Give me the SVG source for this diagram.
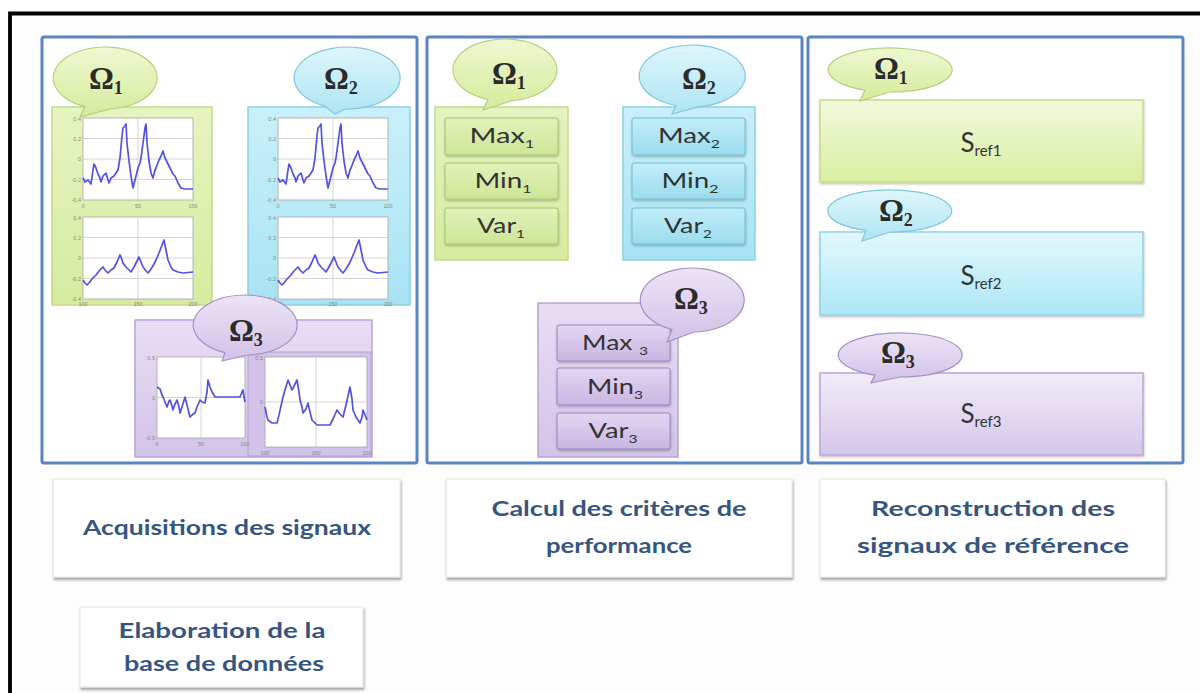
<svg xmlns="http://www.w3.org/2000/svg" xmlns:xlink="http://www.w3.org/1999/xlink" width="1200" height="693" viewBox="0 0 1200 693">
<defs>
<style>
.panel{fill:#ffffff;stroke:#5b84c4;stroke-width:3}
.om{font-family:"Liberation Serif","DejaVu Serif",serif;font-weight:bold;font-size:31px;fill:#2b2b2b}
.oms{font-size:18px}
.lbl{font-family:Lato,"Open Sans","Liberation Sans",sans-serif;font-size:21px;fill:#333333;text-anchor:middle}
.lsub{font-size:12px}
.sref{font-family:Lato,"Open Sans","Liberation Sans",sans-serif;font-size:26px;fill:#333333;text-anchor:middle}
.ssub{font-size:15px}
.cap{font-family:Lato,"Open Sans","Liberation Sans",sans-serif;font-weight:bold;font-size:21px;fill:#36567f;text-anchor:middle}
.plot{fill:#ffffff;stroke:#a6a6a6;stroke-width:0.8}
.grid{fill:none;stroke:#c9c9c9;stroke-width:0.8}
.sig{fill:none;stroke:#5252e4;stroke-width:1.7;stroke-linejoin:round}
.tick{font-family:"Liberation Sans",sans-serif;font-size:5.5px;fill:#8a8a8a}
.gbox{fill:url(#gG);stroke:#c3da8a;stroke-width:1.5}
.cbox{fill:url(#gC);stroke:#8ccfe3;stroke-width:1.5}
.pbox{fill:url(#gP);stroke:#baa3d6;stroke-width:1.5}
.gbub{fill:url(#bG);stroke:#b7d07a;stroke-width:1.2}
.cbub{fill:url(#bC);stroke:#83c7dd;stroke-width:1.2}
.pbub{fill:url(#bP);stroke:#a78fc6;stroke-width:1.2}
.gin{fill:url(#iG);stroke:#a9c46c;stroke-width:1}
.cin{fill:url(#iC);stroke:#6fbdd5;stroke-width:1}
.pin{fill:url(#iP);stroke:#9c82be;stroke-width:1}
.card{fill:#ffffff;stroke:#e4e4e4;stroke-width:1}
</style>
<linearGradient id="gG" x1="0" y1="0" x2="0" y2="1"><stop offset="0" stop-color="#e6f4c0"/><stop offset="1" stop-color="#d6eb9f"/></linearGradient>
<linearGradient id="gC" x1="0" y1="0" x2="0" y2="1"><stop offset="0" stop-color="#c9f0fa"/><stop offset="1" stop-color="#a8e3f3"/></linearGradient>
<linearGradient id="gP" x1="0" y1="0" x2="0" y2="1"><stop offset="0" stop-color="#e8def4"/><stop offset="1" stop-color="#d3c3e8"/></linearGradient>
<linearGradient id="rG" x1="0" y1="0" x2="0" y2="1"><stop offset="0" stop-color="#f1f9db"/><stop offset="1" stop-color="#d9eea1"/></linearGradient>
<linearGradient id="rC" x1="0" y1="0" x2="0" y2="1"><stop offset="0" stop-color="#e3f8fd"/><stop offset="1" stop-color="#ace7f5"/></linearGradient>
<linearGradient id="rP" x1="0" y1="0" x2="0" y2="1"><stop offset="0" stop-color="#f1ecf8"/><stop offset="1" stop-color="#d6c6ea"/></linearGradient>
<linearGradient id="bG" x1="0" y1="0" x2="0" y2="1"><stop offset="0" stop-color="#eef8d2"/><stop offset="1" stop-color="#d5eb9b"/></linearGradient>
<linearGradient id="bC" x1="0" y1="0" x2="0" y2="1"><stop offset="0" stop-color="#def6fc"/><stop offset="1" stop-color="#aee4f3"/></linearGradient>
<linearGradient id="bP" x1="0" y1="0" x2="0" y2="1"><stop offset="0" stop-color="#ece4f6"/><stop offset="1" stop-color="#d2c1e8"/></linearGradient>
<linearGradient id="iG" x1="0" y1="0" x2="0" y2="1"><stop offset="0" stop-color="#e2f2b8"/><stop offset="1" stop-color="#cde597"/></linearGradient>
<linearGradient id="iC" x1="0" y1="0" x2="0" y2="1"><stop offset="0" stop-color="#c2edf8"/><stop offset="1" stop-color="#9bdcee"/></linearGradient>
<linearGradient id="iP" x1="0" y1="0" x2="0" y2="1"><stop offset="0" stop-color="#e2d7f1"/><stop offset="1" stop-color="#c9b6e2"/></linearGradient>
<filter id="sh" x="-10%" y="-10%" width="125%" height="135%"><feDropShadow dx="1" dy="2.5" stdDeviation="1.3" flood-color="#000000" flood-opacity="0.35"/></filter>
<filter id="sh2" x="-10%" y="-10%" width="125%" height="140%"><feDropShadow dx="0.5" dy="1.5" stdDeviation="0.8" flood-color="#000000" flood-opacity="0.25"/></filter>
<polyline id="sigA" class="sig" points="0,60 2,64 5,62 8,66 10,52 11,46 13,50 15,56 17,60 18,64 20,58 23,55 25,62 26,65 28,60 31,58 33,55 35,52 37,40 39,18 40,10 42,8 43,6 44,25 46,43 48,58 50,70 52,62 55,50 57,45 58,40 60,25 62,10 63,6 64,25 66,43 68,55 70,60 72,52 73,50 76,42 78,38 80,33 82,40 85,46 87,50 90,56 92,58 95,65 98,70 102,71 110,71"/>
<polyline id="sigB" class="sig" points="0,63 2,66 4,68 6,66 9,62 13,58 16,54 20,50 22,53 25,56 28,53 31,51 34,45 37,38 38,40 40,46 43,50 46,53 48,55 51,50 54,44 56,40 58,45 60,50 63,54 65,56 68,52 71,47 73,43 76,36 79,28 81,23 83,33 85,43 88,50 90,53 95,55 100,56 110,55"/>
</defs>

<rect x="0" y="0" width="1200" height="693" fill="#ffffff"/>
<rect x="12" y="15" width="1188" height="678" fill="#fdfdfd"/>
<path d="M10 693 V13.5 H1200" fill="none" stroke="#000000" stroke-width="3.8"/>

<g id="connectors"></g>

<!-- Panel 1 -->
<g id="panel-acquisition">
<rect class="panel" x="42" y="37" width="375" height="426" rx="2"/>
<g id="p1-omega1">
<rect class="gbox" x="52" y="107" width="160" height="198"/>
<g transform="translate(83,118)">
<rect class="plot" width="110" height="82"/>
<path class="grid" d="M0 20.5H110M0 41H110M0 61.5H110M55 0V82"/>
<use xlink:href="#sigA"/>
<text class="tick" x="-2" y="3" text-anchor="end">0.4</text><text class="tick" x="-2" y="23" text-anchor="end">0.2</text><text class="tick" x="-2" y="43" text-anchor="end">0</text><text class="tick" x="-2" y="64" text-anchor="end">-0.2</text><text class="tick" x="-2" y="84" text-anchor="end">-0.4</text>
<text class="tick" x="0" y="90" text-anchor="middle">0</text><text class="tick" x="55" y="90" text-anchor="middle">50</text><text class="tick" x="110" y="90" text-anchor="middle">100</text>
</g>
<g transform="translate(83,217)">
<rect class="plot" width="110" height="82"/>
<path class="grid" d="M0 20.5H110M0 41H110M0 61.5H110M55 0V82"/>
<use xlink:href="#sigB"/>
<text class="tick" x="-2" y="3" text-anchor="end">0.4</text><text class="tick" x="-2" y="23" text-anchor="end">0.2</text><text class="tick" x="-2" y="43" text-anchor="end">0</text><text class="tick" x="-2" y="64" text-anchor="end">-0.2</text><text class="tick" x="-2" y="84" text-anchor="end">-0.4</text>
<text class="tick" x="0" y="89" text-anchor="middle">100</text><text class="tick" x="55" y="89" text-anchor="middle">150</text><text class="tick" x="110" y="89" text-anchor="middle">200</text>
</g>
<path class="gbub" d="M110 108.9 A52 31 0 1 0 85 106.6 L80 117 Z"/>
<text class="om" x="89" y="89">Ω<tspan class="oms" dy="5">1</tspan></text>
</g>
<g id="p1-omega2">
<rect class="cbox" x="248" y="107" width="162" height="198"/>
<g transform="translate(278,118)">
<rect class="plot" width="110" height="82"/>
<path class="grid" d="M0 20.5H110M0 41H110M0 61.5H110M55 0V82"/>
<use xlink:href="#sigA"/>
<text class="tick" x="-2" y="3" text-anchor="end">0.4</text><text class="tick" x="-2" y="23" text-anchor="end">0.2</text><text class="tick" x="-2" y="43" text-anchor="end">0</text><text class="tick" x="-2" y="64" text-anchor="end">-0.2</text><text class="tick" x="-2" y="84" text-anchor="end">-0.4</text>
<text class="tick" x="0" y="90" text-anchor="middle">0</text><text class="tick" x="55" y="90" text-anchor="middle">50</text><text class="tick" x="110" y="90" text-anchor="middle">100</text>
</g>
<g transform="translate(278,217)">
<rect class="plot" width="110" height="82"/>
<path class="grid" d="M0 20.5H110M0 41H110M0 61.5H110M55 0V82"/>
<use xlink:href="#sigB"/>
<text class="tick" x="-2" y="3" text-anchor="end">0.4</text><text class="tick" x="-2" y="23" text-anchor="end">0.2</text><text class="tick" x="-2" y="43" text-anchor="end">0</text><text class="tick" x="-2" y="64" text-anchor="end">-0.2</text><text class="tick" x="-2" y="84" text-anchor="end">-0.4</text>
<text class="tick" x="0" y="89" text-anchor="middle">100</text><text class="tick" x="55" y="89" text-anchor="middle">150</text><text class="tick" x="110" y="89" text-anchor="middle">200</text>
</g>
<path class="cbub" d="M345 109 A53 31 0 1 0 325 106.2 L335 114 Z"/>
<text class="om" x="324" y="89">Ω<tspan class="oms" dy="5">2</tspan></text>
</g>
<g id="p1-omega3">
<rect class="pbox" x="135" y="320" width="237" height="137"/>
<rect x="248" y="352" width="123" height="104" fill="#d3c2e9" stroke="#b9a2d6" stroke-width="1"/>
<g transform="translate(157,357)">
<rect class="plot" width="88" height="81"/>
<path class="grid" d="M0 40.5H88M44 0V81"/>
<polyline class="sig" points="0,30 3,32 5,38 6,40 8,45 10,50 12,44 13,43 15,49 16,53 18,47 20,43 22,50 23,56 25,50 28,40 30,48 33,60 35,58 38,56 40,50 43,43 45,45 48,46 50,35 51,23 53,30 55,35 57,38 58,40 70,40 83,40 85,35 86,33 87,40 88,45"/>
<text class="tick" x="-2" y="3" text-anchor="end">0.5</text><text class="tick" x="-2" y="43" text-anchor="end">0</text><text class="tick" x="-2" y="83" text-anchor="end">-0.5</text>
<text class="tick" x="0" y="89" text-anchor="middle">0</text><text class="tick" x="44" y="89" text-anchor="middle">50</text><text class="tick" x="88" y="89" text-anchor="middle">100</text>
</g>
<g transform="translate(265,357)">
<rect class="plot" width="102" height="90"/>
<path class="grid" d="M0 45H102M51 0V90"/>
<polyline class="sig" points="0,50 2,60 3,63 7,66 12,66 14,58 18,40 20,33 23,23 25,28 27,33 30,27 32,23 34,35 35,43 37,50 38,56 41,52 43,46 45,55 47,63 50,66 52,68 58,68 65,68 68,62 72,53 75,57 78,60 81,48 85,30 87,42 88,53 91,60 95,66 97,60 98,53 100,58 102,63"/>
<text class="tick" x="-2" y="3" text-anchor="end">0.5</text><text class="tick" x="-2" y="47" text-anchor="end">0</text>
<text class="tick" x="0" y="98" text-anchor="middle">100</text><text class="tick" x="51" y="98" text-anchor="middle">150</text><text class="tick" x="102" y="98" text-anchor="middle">200</text>
</g>
<path class="pbub" d="M248 355 A52 30 0 1 0 225 352.7 L222 361 Z"/>
<text class="om" x="229" y="341">Ω<tspan class="oms" dy="5">3</tspan></text>
</g>
</g>

<!-- Panel 2 -->
<g id="panel-criteres">
<rect class="panel" x="427" y="37" width="375" height="426" rx="2"/>
<g id="p2-omega1">
<rect class="gbox" x="435" y="107" width="133" height="153"/>
<rect class="gin" filter="url(#sh2)" x="445" y="118" width="113" height="37" rx="2"/>
<rect class="gin" filter="url(#sh2)" x="445" y="163" width="113" height="36" rx="2"/>
<rect class="gin" filter="url(#sh2)" x="445" y="208" width="113" height="36" rx="2"/>
<text class="lbl" x="502" y="143" textLength="65" lengthAdjust="spacingAndGlyphs">Max<tspan class="lsub" dy="5">1</tspan></text>
<text class="lbl" x="503" y="188" textLength="57" lengthAdjust="spacingAndGlyphs">Min<tspan class="lsub" dy="5">1</tspan></text>
<text class="lbl" x="501" y="233" textLength="48" lengthAdjust="spacingAndGlyphs">Var<tspan class="lsub" dy="5">1</tspan></text>
<path class="gbub" d="M512 100.7 A52 31 0 1 0 488 99.3 L483 110 Z"/>
<text class="om" x="492" y="84">Ω<tspan class="oms" dy="5">1</tspan></text>
</g>
<g id="p2-omega2">
<rect class="cbox" x="623" y="107" width="132" height="153"/>
<rect class="cin" filter="url(#sh2)" x="632" y="118" width="113" height="37" rx="2"/>
<rect class="cin" filter="url(#sh2)" x="632" y="163" width="113" height="36" rx="2"/>
<rect class="cin" filter="url(#sh2)" x="632" y="208" width="113" height="36" rx="2"/>
<text class="lbl" x="689" y="143" textLength="62" lengthAdjust="spacingAndGlyphs">Max<tspan class="lsub" dy="5">2</tspan></text>
<text class="lbl" x="690" y="188" textLength="57" lengthAdjust="spacingAndGlyphs">Min<tspan class="lsub" dy="5">2</tspan></text>
<text class="lbl" x="688" y="233" textLength="48" lengthAdjust="spacingAndGlyphs">Var<tspan class="lsub" dy="5">2</tspan></text>
<path class="cbub" d="M698 106.8 A53 31 0 1 0 676 105.5 L672 114 Z"/>
<text class="om" x="682" y="89">Ω<tspan class="oms" dy="5">2</tspan></text>
</g>
<g id="p2-omega3">
<rect class="pbox" x="538" y="303" width="140" height="154"/>
<rect class="pin" filter="url(#sh2)" x="557" y="325" width="113" height="36" rx="2"/>
<rect class="pin" filter="url(#sh2)" x="557" y="368" width="113" height="37" rx="2"/>
<rect class="pin" filter="url(#sh2)" x="557" y="413" width="113" height="36" rx="2"/>
<text class="lbl" x="615" y="350" textLength="66" lengthAdjust="spacingAndGlyphs">Max <tspan class="lsub" dy="5">3</tspan></text>
<text class="lbl" x="615" y="394" textLength="56" lengthAdjust="spacingAndGlyphs">Min<tspan class="lsub" dy="5">3</tspan></text>
<text class="lbl" x="613" y="438" textLength="49" lengthAdjust="spacingAndGlyphs">Var<tspan class="lsub" dy="5">3</tspan></text>
<path class="pbub" d="M694 332 A52 32 0 1 0 672 329.5 L667 342 Z"/>
<text class="om" x="674" y="309">Ω<tspan class="oms" dy="5">3</tspan></text>
</g>
</g>

<!-- Panel 3 -->
<g id="panel-reconstruction">
<rect class="panel" x="808" y="37" width="375" height="426" rx="2"/>
<g id="p3-sref1">
<rect x="820" y="100" width="323" height="82" fill="url(#rG)" stroke="#c5dc8c" stroke-width="1.5" filter="url(#sh2)"/>
<text class="sref" x="981" y="152">S<tspan class="ssub" dy="4">ref1</tspan></text>
<path class="gbub" d="M890 92 A62 22 0 1 0 865 90.1 L860 101 Z"/>
<text class="om" x="874" y="79">Ω<tspan class="oms" dy="5">1</tspan></text>
</g>
<g id="p3-sref2">
<rect x="820" y="232" width="323" height="83" fill="url(#rC)" stroke="#8fd3e6" stroke-width="1.5" filter="url(#sh2)"/>
<text class="sref" x="981" y="285">S<tspan class="ssub" dy="4">ref2</tspan></text>
<path class="cbub" d="M890 232 A62 21 0 1 0 866 230.4 L862 241 Z"/>
<text class="om" x="879" y="221">Ω<tspan class="oms" dy="5">2</tspan></text>
</g>
<g id="p3-sref3">
<rect x="820" y="373" width="323" height="82" fill="url(#rP)" stroke="#bda6d8" stroke-width="1.5" filter="url(#sh2)"/>
<text class="sref" x="981" y="423">S<tspan class="ssub" dy="4">ref3</tspan></text>
<path class="pbub" d="M900 377 A62 22 0 1 0 875 375.1 L871 383 Z"/>
<text class="om" x="881" y="363">Ω<tspan class="oms" dy="5">3</tspan></text>
</g>
</g>

<!-- Bottom captions -->
<g id="cap-acquisition">
<rect class="card" filter="url(#sh)" x="53" y="479" width="347" height="98"/>
<text class="cap" x="227" y="535" textLength="288" lengthAdjust="spacingAndGlyphs">Acquisitions des signaux</text>
</g>
<g id="cap-criteres">
<rect class="card" filter="url(#sh)" x="446" y="479" width="346" height="98"/>
<text class="cap" x="619" y="516" textLength="255" lengthAdjust="spacingAndGlyphs">Calcul des critères de</text>
<text class="cap" x="619" y="553" textLength="146" lengthAdjust="spacingAndGlyphs">performance</text>
</g>
<g id="cap-reconstruction">
<rect class="card" filter="url(#sh)" x="820" y="479" width="345" height="98"/>
<text class="cap" x="993" y="516" textLength="244" lengthAdjust="spacingAndGlyphs">Reconstruction des</text>
<text class="cap" x="993" y="553" textLength="272" lengthAdjust="spacingAndGlyphs">signaux de référence</text>
</g>
<g id="cap-elaboration">
<rect class="card" filter="url(#sh)" x="80" y="607" width="283" height="80"/>
<text class="cap" x="222" y="638" textLength="207" lengthAdjust="spacingAndGlyphs">Elaboration de la</text>
<text class="cap" x="224" y="671" textLength="200" lengthAdjust="spacingAndGlyphs">base de données</text>
</g>
</svg>
